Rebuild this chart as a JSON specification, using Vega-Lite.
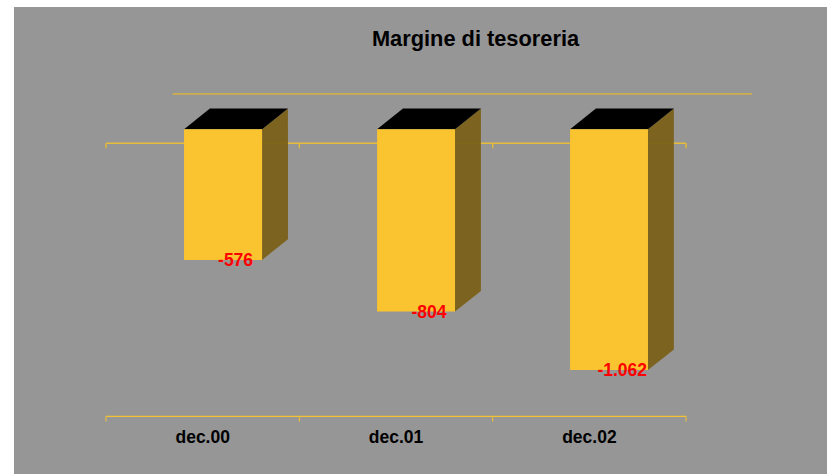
{
"$schema":"https://vega.github.io/schema/vega-lite/v6.json",
"width":813,"height":467,
"autosize":{"type":"none"},
"padding":{"left":14,"top":7,"right":0,"bottom":0},
"background":"#ffffff",
"view":{"fill":"#969696","stroke":null},
"title":{"text":"Margine di tesoreria","anchor":"middle","frame":"group","dx":55,"offset":-44,"font":"Liberation Sans","fontWeight":"bold","fontSize":21.8,"color":"#000000"},
"datasets":{
"bars":[
{"period":"dec.00","slot":0.5,"left":0.4035,"right":0.807,"labelX":0.67,"zero":0,"axisLevel":-1362,"value":-576,"label":"-576"},
{"period":"dec.01","slot":1.5,"left":1.402,"right":1.805,"labelX":1.67,"zero":0,"axisLevel":-1362,"value":-804,"label":"-804"},
{"period":"dec.02","slot":2.5,"left":2.4,"right":2.803,"labelX":2.67,"zero":0,"axisLevel":-1362,"value":-1062,"label":"-1.062"}
],
"sides":[
{"period":"dec.00","x":0.807,"top":0,"bottom":-576},{"period":"dec.00","x":0.941,"top":91,"bottom":-485},
{"period":"dec.01","x":1.805,"top":0,"bottom":-804},{"period":"dec.01","x":1.939,"top":91,"bottom":-713},
{"period":"dec.02","x":2.803,"top":0,"bottom":-1062},{"period":"dec.02","x":2.937,"top":91,"bottom":-971}
],
"tops":[
{"period":"dec.00","x":0.4035,"back":0,"front":0},{"period":"dec.00","x":0.5375,"back":91,"front":0},{"period":"dec.00","x":0.807,"back":91,"front":0},{"period":"dec.00","x":0.941,"back":91,"front":91},
{"period":"dec.01","x":1.402,"back":0,"front":0},{"period":"dec.01","x":1.536,"back":91,"front":0},{"period":"dec.01","x":1.805,"back":91,"front":0},{"period":"dec.01","x":1.939,"back":91,"front":91},
{"period":"dec.02","x":2.4,"back":0,"front":0},{"period":"dec.02","x":2.534,"back":91,"front":0},{"period":"dec.02","x":2.803,"back":91,"front":0},{"period":"dec.02","x":2.937,"back":91,"front":91}
],
"ticks":[
{"x":0,"a":-62,"b":-84,"c":-1266,"d":-1289},
{"x":1,"a":-62,"b":-84,"c":-1266,"d":-1289},
{"x":2,"a":-62,"b":-84,"c":-1266,"d":-1289},
{"x":3,"a":-62,"b":-84,"c":-1266,"d":-1289}
]
},
"encoding":{
"x":{"type":"quantitative","scale":{"domain":[-0.476,3.729],"nice":false,"zero":false},"axis":null},
"y":{"type":"quantitative","scale":{"domain":[-1520,539],"nice":false,"zero":false},"axis":null}
},
"layer":[
{"data":{"values":[{"x":0.345,"x2":3.341,"y":156}]},"mark":{"type":"rule","stroke":"#cfae4c","strokeWidth":1.6},"encoding":{"x":{"field":"x","type":"quantitative"},"x2":{"field":"x2"},"y":{"field":"y","type":"quantitative"}}},
{"data":{"values":[{"x":0,"x2":3,"y":-62}]},"mark":{"type":"rule","stroke":"#e6bc38","strokeWidth":1.6},"encoding":{"x":{"field":"x","type":"quantitative"},"x2":{"field":"x2"},"y":{"field":"y","type":"quantitative"}}},
{"data":{"name":"ticks"},"mark":{"type":"rule","stroke":"#e6bc38","strokeWidth":1.4},"encoding":{"x":{"field":"x","type":"quantitative"},"y":{"field":"a","type":"quantitative"},"y2":{"field":"b"}}},
{"data":{"values":[{"x":0,"x2":3,"y":-1266}]},"mark":{"type":"rule","stroke":"#f4c232","strokeWidth":1.2},"encoding":{"x":{"field":"x","type":"quantitative"},"x2":{"field":"x2"},"y":{"field":"y","type":"quantitative"}}},
{"data":{"name":"ticks"},"mark":{"type":"rule","stroke":"#f4c232","strokeWidth":1},"encoding":{"x":{"field":"x","type":"quantitative"},"y":{"field":"c","type":"quantitative"},"y2":{"field":"d"}}},
{"data":{"name":"sides"},"mark":{"type":"area","fill":"#7a6118","opacity":0.94,"orient":"vertical"},"encoding":{"x":{"field":"x","type":"quantitative"},"y":{"field":"top","type":"quantitative","stack":null},"y2":{"field":"bottom"},"detail":{"field":"period"}}},
{"data":{"name":"tops"},"mark":{"type":"area","fill":"#000000","orient":"vertical"},"encoding":{"x":{"field":"x","type":"quantitative"},"y":{"field":"back","type":"quantitative","stack":null},"y2":{"field":"front"},"detail":{"field":"period"}}},
{"data":{"name":"bars"},"mark":{"type":"rect","fill":"#f9c42f"},"encoding":{"x":{"field":"left","type":"quantitative"},"x2":{"field":"right"},"y":{"field":"zero","type":"quantitative"},"y2":{"field":"value"}}},
{"data":{"name":"bars"},"mark":{"type":"text","color":"#ff0000","font":"Liberation Sans","fontWeight":"bold","fontSize":17.5,"align":"center","baseline":"middle","dy":1},"encoding":{"x":{"field":"labelX","type":"quantitative"},"y":{"field":"value","type":"quantitative"},"text":{"field":"label"}}},
{"data":{"name":"bars"},"mark":{"type":"text","color":"#000000","font":"Liberation Sans","fontWeight":"bold","fontSize":17.5,"align":"center","baseline":"middle"},"encoding":{"x":{"field":"slot","type":"quantitative"},"y":{"field":"axisLevel","type":"quantitative"},"text":{"field":"period"}}}
]
}
